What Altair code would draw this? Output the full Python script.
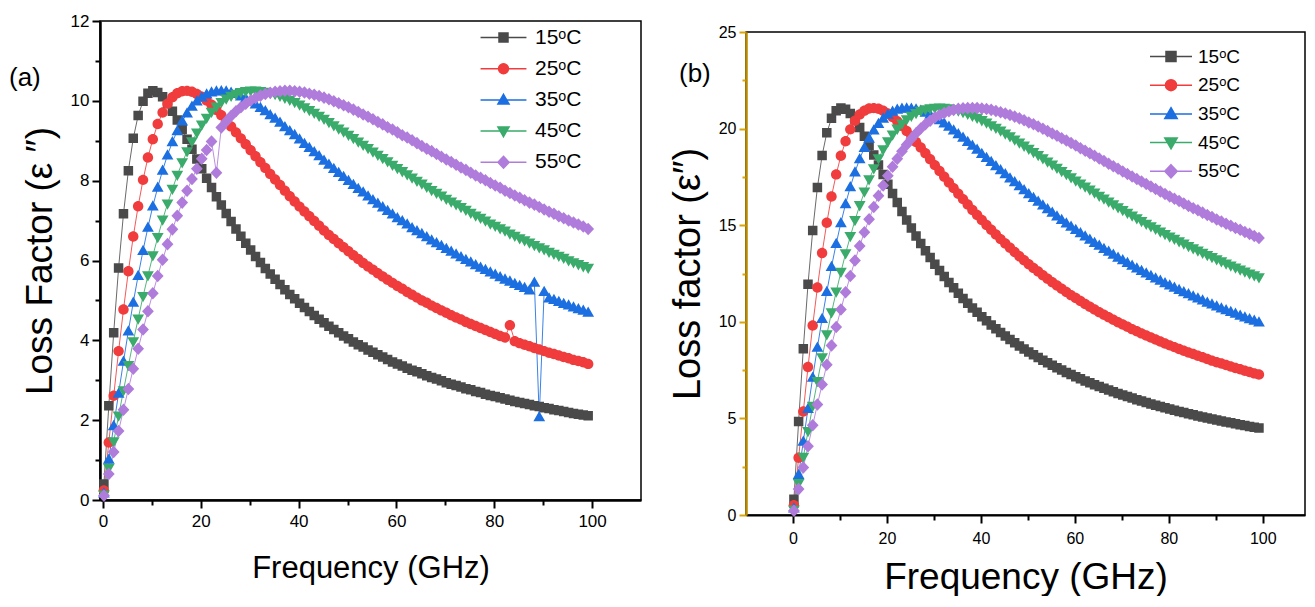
import altair as alt
import pandas as pd

freq = [0.2, 1.2, 2.2, 3.2, 4.2, 5.2, 6.2, 7.2, 8.2, 9.2,
        10.2, 11.2, 12.2, 13.2, 14.2, 15.2, 16.2, 17.2, 18.2, 19.2,
        20.2, 21.2, 22.2, 23.2, 24.2, 25.2, 26.2, 27.2, 28.2, 29.2,
        30.2, 31.2, 32.2, 33.2, 34.2, 35.2, 36.2, 37.2, 38.2, 39.2,
        40.2, 41.2, 42.2, 43.2, 44.2, 45.2, 46.2, 47.2, 48.2, 49.2,
        50.2, 51.2, 52.2, 53.2, 54.2, 55.2, 56.2, 57.2, 58.2, 59.2,
        60.2, 61.2, 62.2, 63.2, 64.2, 65.2, 66.2, 67.2, 68.2, 69.2,
        70.2, 71.2, 72.2, 73.2, 74.2, 75.2, 76.2, 77.2, 78.2, 79.2,
        80.2, 81.2, 82.2, 83.2, 84.2, 85.2, 86.2, 87.2, 88.2, 89.2,
        90.2, 91.2, 92.2, 93.2, 94.2, 95.2, 96.2, 97.2, 98.2, 99.2]

names = ["15ᵒC", "25ᵒC", "35ᵒC", "45ᵒC", "55ᵒC"]
colors = ["#4a4a4a", "#f03c3c", "#1c6fe0", "#3aab6b", "#b07cdc"]
line_colors = ["#6a6a6a", "#f25a5a", "#3a82e6", "#55b77f", "#bb8fe0"]

# ---- panel (a) ----
a_15 = [0.40, 2.36, 4.19, 5.81, 7.17, 8.25, 9.06, 9.63, 9.99, 10.19,
        10.25, 10.21, 10.10, 9.94, 9.74, 9.52, 9.28, 9.04, 8.79, 8.54,
        8.30, 8.06, 7.83, 7.60, 7.39, 7.18, 6.98, 6.79, 6.61, 6.43,
        6.26, 6.10, 5.95, 5.80, 5.66, 5.53, 5.40, 5.27, 5.15, 5.04,
        4.93, 4.82, 4.72, 4.62, 4.53, 4.44, 4.35, 4.27, 4.19, 4.11,
        4.04, 3.96, 3.89, 3.83, 3.76, 3.70, 3.64, 3.58, 3.52, 3.46,
        3.41, 3.36, 3.30, 3.25, 3.21, 3.16, 3.11, 3.07, 3.03, 2.99,
        2.94, 2.90, 2.87, 2.83, 2.79, 2.76, 2.72, 2.69, 2.65, 2.62,
        2.59, 2.56, 2.53, 2.50, 2.47, 2.44, 2.42, 2.39, 2.36, 2.34,
        2.31, 2.29, 2.26, 2.24, 2.22, 2.19, 2.17, 2.15, 2.13, 2.11]
a_25 = [0.24, 1.44, 2.61, 3.73, 4.77, 5.73, 6.60, 7.36, 8.02, 8.58,
        9.04, 9.42, 9.71, 9.93, 10.09, 10.19, 10.24, 10.25, 10.23, 10.17,
        10.10, 10.01, 9.90, 9.77, 9.64, 9.50, 9.36, 9.21, 9.06, 8.91,
        8.76, 8.61, 8.46, 8.32, 8.17, 8.03, 7.89, 7.75, 7.61, 7.48,
        7.35, 7.23, 7.11, 6.99, 6.87, 6.75, 6.64, 6.54, 6.43, 6.33,
        6.23, 6.13, 6.04, 5.94, 5.85, 5.77, 5.68, 5.60, 5.52, 5.44,
        5.36, 5.29, 5.21, 5.14, 5.07, 5.00, 4.94, 4.87, 4.81, 4.75,
        4.69, 4.63, 4.57, 4.52, 4.46, 4.41, 4.36, 4.31, 4.26, 4.21,
        4.16, 4.11, 4.07, 4.38, 3.98, 3.93, 3.89, 3.85, 3.81, 3.77,
        3.73, 3.69, 3.66, 3.62, 3.58, 3.55, 3.51, 3.48, 3.45, 3.41]
a_35 = [0.17, 1.02, 1.86, 2.67, 3.47, 4.23, 4.95, 5.62, 6.25, 6.83,
        7.36, 7.83, 8.26, 8.64, 8.97, 9.25, 9.49, 9.69, 9.86, 9.99,
        10.09, 10.17, 10.22, 10.24, 10.25, 10.24, 10.21, 10.18, 10.12, 10.06,
        9.99, 9.92, 9.83, 9.75, 9.65, 9.56, 9.46, 9.35, 9.25, 9.15,
        9.04, 8.93, 8.83, 8.72, 8.62, 8.51, 8.41, 8.30, 8.20, 8.10,
        8.00, 7.90, 7.80, 7.71, 7.61, 7.52, 7.43, 7.34, 7.25, 7.16,
        7.07, 6.99, 6.91, 6.82, 6.74, 6.67, 6.59, 6.51, 6.44, 6.37,
        6.30, 6.23, 6.16, 6.09, 6.02, 5.96, 5.89, 5.83, 5.77, 5.71,
        5.65, 5.59, 5.53, 5.48, 5.42, 5.37, 5.32, 5.26, 5.45, 2.08,
        5.22, 5.06, 5.02, 4.97, 4.92, 4.88, 4.83, 4.79, 4.75, 4.70]
a_45 = [0.13, 0.80, 1.46, 2.11, 2.74, 3.37, 3.97, 4.54, 5.10, 5.62,
        6.12, 6.58, 7.02, 7.42, 7.79, 8.14, 8.45, 8.73, 8.98, 9.20,
        9.40, 9.57, 9.72, 9.85, 9.96, 10.05, 10.12, 10.17, 10.21, 10.24,
        10.25, 10.25, 10.24, 10.22, 10.19, 10.16, 10.12, 10.07, 10.02, 9.96,
        9.90, 9.83, 9.76, 9.69, 9.62, 9.54, 9.46, 9.38, 9.30, 9.22,
        9.14, 9.06, 8.97, 8.89, 8.81, 8.72, 8.64, 8.56, 8.48, 8.39,
        8.31, 8.23, 8.15, 8.07, 7.99, 7.92, 7.84, 7.76, 7.69, 7.62,
        7.54, 7.47, 7.40, 7.33, 7.26, 7.19, 7.12, 7.06, 6.99, 6.92,
        6.86, 6.80, 6.74, 6.67, 6.61, 6.55, 6.50, 6.44, 6.38, 6.32,
        6.27, 6.21, 6.16, 6.11, 6.06, 6.00, 5.95, 5.90, 5.85, 5.81]
a_55 = [0.11, 0.65, 1.20, 1.73, 2.26, 2.78, 3.29, 3.79, 4.27, 4.73,
        5.18, 5.61, 6.02, 6.41, 6.78, 7.12, 7.45, 7.75, 8.04, 8.30,
        8.55, 8.77, 8.98, 8.20, 9.33, 9.48, 9.62, 9.74, 9.84, 9.93,
        10.01, 10.07, 10.13, 10.17, 10.20, 10.23, 10.24, 10.25, 10.25, 10.24,
        10.23, 10.21, 10.18, 10.15, 10.12, 10.08, 10.04, 9.99, 9.94, 9.89,
        9.84, 9.78, 9.72, 9.66, 9.60, 9.54, 9.47, 9.41, 9.34, 9.28,
        9.21, 9.14, 9.08, 9.01, 8.94, 8.87, 8.80, 8.74, 8.67, 8.60,
        8.53, 8.47, 8.40, 8.33, 8.27, 8.20, 8.13, 8.07, 8.01, 7.94,
        7.88, 7.82, 7.75, 7.69, 7.63, 7.57, 7.51, 7.45, 7.40, 7.34,
        7.28, 7.22, 7.17, 7.11, 7.06, 7.00, 6.95, 6.90, 6.85, 6.79]

# ---- panel (b) ----
b_15 = [0.82, 4.84, 8.61, 11.94, 14.73, 16.95, 18.61, 19.78, 20.53, 20.93,
        21.06, 21.00, 20.78, 20.46, 20.06, 19.61, 19.12, 18.63, 18.12, 17.62,
        17.12, 16.64, 16.17, 15.71, 15.27, 14.85, 14.44, 14.05, 13.68, 13.33,
        12.98, 12.65, 12.34, 12.04, 11.76, 11.48, 11.21, 10.96, 10.72, 10.49,
        10.26, 10.05, 9.84, 9.64, 9.45, 9.27, 9.09, 8.92, 8.75, 8.59,
        8.44, 8.29, 8.15, 8.01, 7.88, 7.75, 7.62, 7.50, 7.38, 7.27,
        7.16, 7.05, 6.94, 6.84, 6.74, 6.65, 6.56, 6.47, 6.38, 6.29,
        6.21, 6.13, 6.05, 5.97, 5.90, 5.82, 5.75, 5.68, 5.62, 5.55,
        5.49, 5.42, 5.36, 5.30, 5.24, 5.19, 5.13, 5.07, 5.02, 4.97,
        4.92, 4.86, 4.82, 4.77, 4.72, 4.67, 4.63, 4.58, 4.54, 4.50]
b_25 = [0.50, 2.96, 5.36, 7.66, 9.81, 11.78, 13.56, 15.13, 16.49, 17.63,
        18.59, 19.35, 19.96, 20.41, 20.73, 20.93, 21.04, 21.06, 21.03, 20.93,
        20.78, 20.60, 20.38, 20.14, 19.88, 19.60, 19.31, 19.02, 18.72, 18.42,
        18.11, 17.81, 17.51, 17.21, 16.92, 16.63, 16.35, 16.07, 15.79, 15.53,
        15.27, 15.01, 14.76, 14.52, 14.28, 14.05, 13.83, 13.61, 13.39, 13.19,
        12.98, 12.79, 12.60, 12.41, 12.23, 12.05, 11.88, 11.71, 11.54, 11.38,
        11.23, 11.08, 10.92, 10.78, 10.64, 10.50, 10.37, 10.24, 10.11, 9.98,
        9.86, 9.74, 9.62, 9.51, 9.40, 9.29, 9.19, 9.08, 8.98, 8.88,
        8.78, 8.69, 8.59, 8.50, 8.41, 8.33, 8.24, 8.16, 8.07, 7.99,
        7.91, 7.84, 7.76, 7.69, 7.61, 7.54, 7.47, 7.40, 7.33, 7.27]
b_35 = [0.35, 2.09, 3.81, 5.50, 7.12, 8.68, 10.16, 11.56, 12.85, 14.04,
        15.12, 16.10, 16.98, 17.75, 18.43, 19.01, 19.50, 19.92, 20.26, 20.53,
        20.74, 20.89, 20.99, 21.05, 21.06, 21.05, 21.01, 20.94, 20.84, 20.73,
        20.59, 20.45, 20.28, 20.11, 19.92, 19.73, 19.54, 19.33, 19.13, 18.92,
        18.71, 18.50, 18.29, 18.07, 17.86, 17.65, 17.44, 17.24, 17.03, 16.83,
        16.62, 16.43, 16.23, 16.04, 15.85, 15.66, 15.47, 15.29, 15.11, 14.94,
        14.77, 14.60, 14.43, 14.27, 14.10, 13.95, 13.79, 13.64, 13.49, 13.34,
        13.20, 13.06, 12.92, 12.78, 12.65, 12.52, 12.39, 12.26, 12.14, 12.02,
        11.90, 11.78, 11.66, 11.55, 11.44, 11.33, 11.22, 11.12, 11.01, 10.91,
        10.81, 10.71, 10.62, 10.52, 10.43, 10.33, 10.24, 10.15, 10.07, 9.98]
b_45 = [0.27, 1.64, 2.99, 4.33, 5.64, 6.92, 8.15, 9.34, 10.47, 11.55,
        12.57, 13.53, 14.42, 15.25, 16.02, 16.72, 17.36, 17.93, 18.45, 18.91,
        19.32, 19.67, 19.98, 20.25, 20.47, 20.65, 20.79, 20.90, 20.98, 21.03,
        21.06, 21.07, 21.06, 21.03, 20.98, 20.92, 20.84, 20.75, 20.65, 20.54,
        20.42, 20.30, 20.16, 20.02, 19.88, 19.73, 19.58, 19.42, 19.26, 19.10,
        18.94, 18.77, 18.61, 18.45, 18.28, 18.12, 17.95, 17.79, 17.63, 17.46,
        17.30, 17.14, 16.98, 16.83, 16.67, 16.51, 16.36, 16.21, 16.06, 15.91,
        15.77, 15.62, 15.48, 15.34, 15.20, 15.06, 14.93, 14.80, 14.66, 14.53,
        14.40, 14.28, 14.15, 14.03, 13.91, 13.79, 13.67, 13.56, 13.44, 13.33,
        13.22, 13.11, 13.00, 12.90, 12.79, 12.69, 12.58, 12.48, 12.39, 12.29]
b_55 = [0.22, 1.34, 2.46, 3.56, 4.65, 5.72, 6.76, 7.78, 8.77, 9.73,
        10.64, 11.53, 12.37, 13.17, 13.92, 14.64, 15.31, 15.94, 16.52, 17.06,
        17.56, 18.02, 18.44, 18.83, 19.17, 19.48, 19.76, 20.01, 20.22, 20.41,
        20.57, 20.70, 20.81, 20.90, 20.97, 21.02, 21.05, 21.06, 21.07, 21.06,
        21.04, 21.01, 20.97, 20.91, 20.85, 20.78, 20.70, 20.62, 20.53, 20.43,
        20.32, 20.22, 20.11, 19.99, 19.87, 19.75, 19.63, 19.50, 19.38, 19.25,
        19.12, 18.98, 18.85, 18.72, 18.59, 18.45, 18.32, 18.18, 18.05, 17.92,
        17.78, 17.65, 17.52, 17.39, 17.26, 17.13, 17.00, 16.87, 16.74, 16.62,
        16.49, 16.37, 16.25, 16.12, 16.00, 15.88, 15.77, 15.65, 15.53, 15.42,
        15.30, 15.19, 15.08, 14.97, 14.86, 14.76, 14.65, 14.55, 14.44, 14.34]

x_ticks = [0, 10, 20, 30, 40, 50, 60, 70, 80, 90, 100]
ya_ticks = [0, 1, 2, 3, 4, 5, 6, 7, 8, 9, 10, 11, 12]
yb_ticks = [0, 2.5, 5, 7.5, 10, 12.5, 15, 17.5, 20, 22.5, 25]

FONT = "Liberation Sans"


def long_df(series_lists):
    rows = []
    for name, vals in zip(names, series_lists):
        for f, v in zip(freq, vals):
            rows.append({"freq": f, "val": v, "series": name})
    return pd.DataFrame(rows)


def shape_paths(L):
    line = f"M{-L},0H{L}"
    return [
        line + "M-0.5,-0.5H0.5V0.5H-0.5Z",
        line + "M-0.55,0A0.55,0.55,0,1,1,0.55,0A0.55,0.55,0,1,1,-0.55,0Z",
        line + "M0,-0.62L0.62,0.46L-0.62,0.46Z",
        line + "M0,0.62L0.62,-0.46L-0.62,-0.46Z",
        line + "M0,-0.66L0.62,0L0,0.66L-0.62,0Z",
    ]


def panel(df, xdom, ydom, xaxis, yaxis, xtitle, ytitle, legend, shapes,
          label, label_x, label_y, width, height):
    base = alt.Chart(df).encode(
        x=alt.X("freq:Q", title=xtitle,
                scale=alt.Scale(domain=xdom, nice=False, zero=False), axis=xaxis),
        y=alt.Y("val:Q", title=ytitle,
                scale=alt.Scale(domain=ydom, nice=False, zero=False), axis=yaxis),
    )
    line_layers = [
        base.transform_filter(alt.datum.series == nm).mark_line(
            strokeWidth=1, color=lc)
        for nm, lc in zip(names, line_colors)
    ]
    pts = base.mark_point(filled=True, opacity=1, size=361).encode(
        color=alt.Color("series:N", scale=alt.Scale(domain=names, range=colors),
                        legend=legend),
        stroke=alt.Stroke("series:N", scale=alt.Scale(domain=names, range=colors),
                          legend=legend),
        shape=alt.Shape("series:N", scale=alt.Scale(domain=names, range=shapes),
                        legend=legend),
        strokeWidth=alt.value(0),
    )
    lab = alt.Chart(pd.DataFrame({"t": [label]})).mark_text(
        font=FONT, fontSize=26, align="left", baseline="middle", color="black"
    ).encode(text="t:N", x=alt.value(label_x), y=alt.value(label_y))
    return alt.layer(*line_layers, pts, lab).properties(width=width, height=height)


def cond_size(test, major, minor):
    return {"condition": {"test": test, "value": major}, "value": minor}


common_axis = dict(grid=False, labelFont=FONT, titleFont=FONT, labelColor="black",
                   titleColor="black", titleFontWeight="normal")

xa = alt.Axis(values=x_ticks, labelExpr="datum.value % 20 === 0 ? datum.label : ''",
              tickSize=cond_size("datum.value % 20 === 0", 8, 5), tickWidth=2,
              tickColor="black", domainColor="black", domainWidth=2.5,
              labelFontSize=17, labelPadding=5, titleFontSize=31, titlePadding=24,
              **common_axis)
ya = alt.Axis(values=ya_ticks, labelExpr="datum.value % 2 === 0 ? datum.label : ''",
              tickSize=cond_size("datum.value % 2 === 0", 8, 5), tickWidth=2,
              tickColor="black", domainColor="black", domainWidth=2.5,
              labelFontSize=17, labelPadding=3, titleFontSize=37, titlePadding=11,
              **common_axis)
xb = alt.Axis(values=x_ticks, labelExpr="datum.value % 20 === 0 ? datum.label : ''",
              tickSize=cond_size("datum.value % 20 === 0", 8, 5), tickWidth=2,
              tickColor="black", domainColor="black", domainWidth=2,
              labelFontSize=16, labelPadding=7, titleFontSize=37, titlePadding=13,
              **common_axis)
yb = alt.Axis(values=yb_ticks, labelExpr="datum.value % 5 === 0 ? datum.label : ''",
              tickSize=cond_size("datum.value % 5 === 0", 7, 4), tickWidth=2,
              tickColor="#d9a406", domainColor="#b88a00", domainWidth=2.5,
              labelFontSize=16, labelPadding=3, titleFontSize=38, titlePadding=11,
              **common_axis)

leg_a = alt.Legend(title=None, orient="none", legendX=393, legendY=6, padding=0,
                   symbolSize=324, symbolStrokeWidth=1.5, symbolOpacity=1,
                   labelFont=FONT, labelFontSize=21, labelColor="black",
                   labelOffset=21, rowPadding=9.2)
leg_b = alt.Legend(title=None, orient="none", legendX=414, legendY=13.5, padding=0,
                   symbolSize=400, symbolStrokeWidth=1.5, symbolOpacity=1,
                   labelFont=FONT, labelFontSize=19, labelColor="black",
                   labelOffset=16, rowPadding=7.7)

df_a = long_df([a_15, a_25, a_35, a_45, a_55])
df_b = long_df([b_15, b_25, b_35, b_45, b_55])

pa = panel(df_a, [-0.6, 110], [0, 12], xa, ya, "Frequency (GHz)",
           "Loss Factor (ε \u2033)", leg_a, shape_paths(2.55),
           "(a)", -91, 57, 541, 479)
pb = panel(df_b, [-10, 109], [0, 25], xb, yb, "Frequency (GHz)",
           "Loss factor (ε\u2033)", leg_b, shape_paths(2.1),
           "(b)", -67, 42, 559, 483)

spacer = alt.Chart(pd.DataFrame({"t": [0]})).mark_point(size=1, opacity=0).encode(
    x=alt.X("t:Q", axis=None), y=alt.Y("t:Q", axis=None)
).properties(width=10, height=1, view=alt.ViewBackground(stroke="transparent"))

right = alt.vconcat(spacer, pb, spacing=0).resolve_scale(
    color="independent", stroke="independent", shape="independent",
    x="independent", y="independent"
).resolve_legend(color="independent", stroke="independent", shape="independent")

chart = alt.hconcat(pa, right, spacing=26).resolve_scale(
    color="independent", stroke="independent", shape="independent",
    x="independent", y="independent"
).resolve_legend(
    color="independent", stroke="independent", shape="independent"
).properties(
    padding={"left": 0, "top": 3, "right": 0, "bottom": 0}
).configure_view(stroke="black", strokeWidth=1.5)

chart.save("out.html", embed_options={"renderer": "svg", "actions": False})
